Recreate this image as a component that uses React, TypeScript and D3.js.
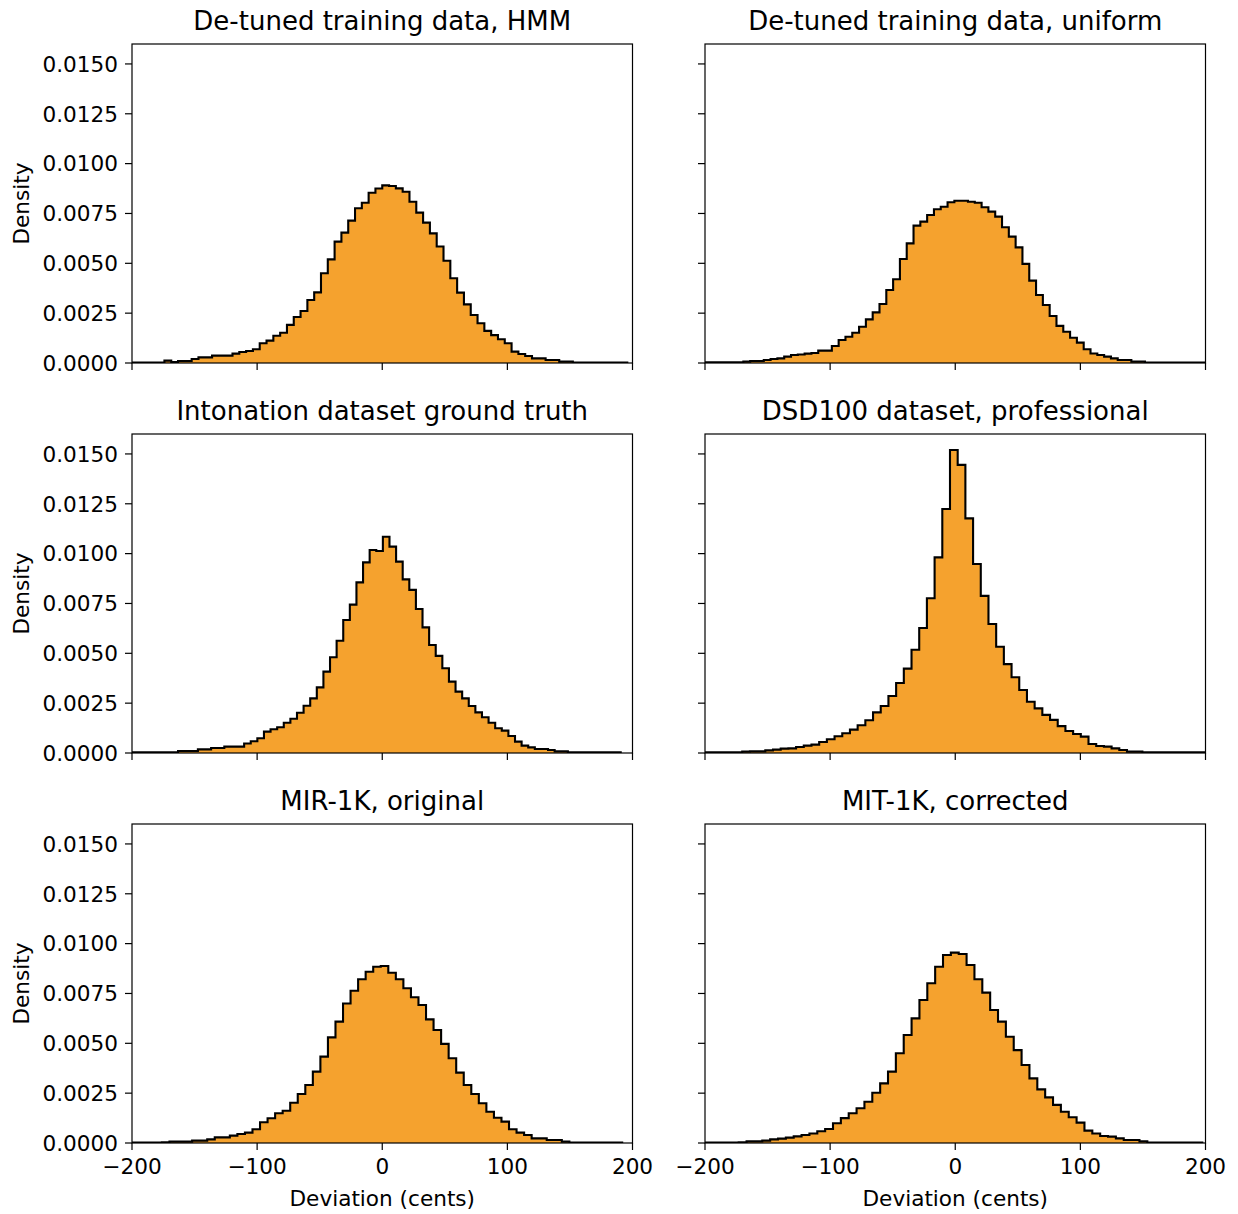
import React, { useEffect, useRef } from 'react';
import * as d3 from 'd3';

// panel titles, row by row
const titles = [
  'De-tuned training data, HMM',
  'De-tuned training data, uniform',
  'Intonation dataset ground truth',
  'DSD100 dataset, professional',
  'MIR-1K, original',
  'MIT-1K, corrected',
];

// left edge of the first bin and bin width (cents) per panel
const binStarts = [-201.28, -201.98, -200.14, -201.0, -200.19, -204.46];
const binWidths = [5.44, 5.44, 5.28, 6.15, 6.03, 6.28];

// density per bin
const hmmDensity = [
  0.00002, 0.00002, 0.00002, 0.00002, 0.00002, 0.00012, 0.00005, 0.0001, 0.0001, 0.0002,
  0.00028, 0.00028, 0.00037, 0.00037, 0.00037, 0.00047, 0.00055, 0.0006, 0.00069, 0.00099,
  0.00112, 0.00137, 0.00152, 0.00191, 0.00231, 0.00261, 0.00316, 0.00354, 0.0045, 0.0052,
  0.00609, 0.00654, 0.00714, 0.00776, 0.00804, 0.00854, 0.00875, 0.00891, 0.00888, 0.00876,
  0.00859, 0.00809, 0.00754, 0.00704, 0.0065, 0.00584, 0.00513, 0.00425, 0.00353, 0.00294,
  0.00241, 0.00199, 0.00161, 0.0014, 0.00119, 0.00099, 0.00057, 0.00045, 0.00035, 0.00023,
  0.00023, 0.00015, 0.00015, 0.00007, 0.00007, 0.00002, 0.00002, 0.00002, 0.00002, 0.00002,
  0.00002, 0.00002, 0.00002,
];

const uniformDensity = [
  0.00003, 0.00003, 0.00003, 0.00003, 0.00003, 0.00003, 0.00007, 0.0001, 0.0001, 0.00015,
  0.0002, 0.00023, 0.00032, 0.0004, 0.00043, 0.00047, 0.0005, 0.00062, 0.00062, 0.00085,
  0.00115, 0.00132, 0.00152, 0.00182, 0.00219, 0.00254, 0.00296, 0.00366, 0.0042, 0.00522,
  0.006, 0.00689, 0.00709, 0.00742, 0.00771, 0.00784, 0.00806, 0.00814, 0.00814, 0.00809,
  0.00804, 0.00781, 0.00759, 0.00734, 0.00681, 0.00634, 0.0058, 0.00497, 0.00413, 0.00341,
  0.00291, 0.00236, 0.00186, 0.00157, 0.00127, 0.00102, 0.00069, 0.00048, 0.0004, 0.00032,
  0.00023, 0.00015, 0.00015, 0.00007, 0.00007, 0.00002, 0.00002, 0.00002, 0.00002, 0.00002,
  0.00002, 0.00002, 0.00002, 0.00002, 0.00002,
];

const intonationDensity = [
  0.00003, 0.00003, 0.00003, 0.00003, 0.00003, 0.00003, 0.00003, 0.0001, 0.0001, 0.0001,
  0.00018, 0.00018, 0.00025, 0.00025, 0.00032, 0.00032, 0.00032, 0.00048, 0.00059, 0.00074,
  0.00107, 0.00119, 0.00129, 0.00152, 0.00172, 0.00202, 0.00237, 0.00274, 0.00329, 0.00408,
  0.0048, 0.00563, 0.00667, 0.00744, 0.00856, 0.00956, 0.01018, 0.01013, 0.01085, 0.01035,
  0.0096, 0.00871, 0.00818, 0.00722, 0.0063, 0.00542, 0.00487, 0.00425, 0.00358, 0.00308,
  0.00274, 0.00236, 0.00204, 0.00179, 0.00152, 0.00124, 0.00112, 0.00085, 0.00057, 0.00037,
  0.00028, 0.0002, 0.0002, 0.00015, 0.00008, 0.00008, 0.00003, 0.00003, 0.00003, 0.00003,
  0.00003, 0.00003, 0.00003, 0.00003,
];

const dsdDensity = [
  0.00003, 0.00003, 0.00003, 0.00003, 0.00003, 0.00007, 0.00008, 0.00008, 0.00013, 0.00017,
  0.00022, 0.00023, 0.0003, 0.00037, 0.00042, 0.00055, 0.00069, 0.00084, 0.00099, 0.00117,
  0.00139, 0.00164, 0.00204, 0.00236, 0.00286, 0.00351, 0.00423, 0.00518, 0.00627, 0.00776,
  0.00981, 0.01224, 0.0152, 0.01445, 0.01177, 0.00948, 0.00788, 0.00647, 0.00533, 0.00446,
  0.0038, 0.00316, 0.00257, 0.00224, 0.00191, 0.00166, 0.00135, 0.0011, 0.00095, 0.00082,
  0.00045, 0.00035, 0.00032, 0.00023, 0.00015, 0.00007, 0.00007, 0.00003, 0.00003, 0.00003,
  0.00003, 0.00003, 0.00003, 0.00003, 0.00003,
];

const mirOriginalDensity = [
  0.00002, 0.00002, 0.00002, 0.00002, 0.00003, 0.00007, 0.00007, 0.00007, 0.00012, 0.00012,
  0.00018, 0.00028, 0.00028, 0.00037, 0.00045, 0.00052, 0.00069, 0.00104, 0.00124, 0.00149,
  0.00162, 0.00202, 0.00246, 0.00291, 0.00358, 0.00433, 0.0053, 0.00609, 0.007, 0.00764,
  0.00821, 0.00859, 0.00884, 0.00888, 0.00854, 0.00821, 0.00776, 0.00731, 0.00692, 0.0062,
  0.00567, 0.00497, 0.00425, 0.00353, 0.00291, 0.00246, 0.00199, 0.00157, 0.00127, 0.00107,
  0.00069, 0.00052, 0.0004, 0.00023, 0.00023, 0.00015, 0.00015, 0.00007, 0.00002, 0.00002,
  0.00002, 0.00002, 0.00002, 0.00002, 0.00002,
];

const mitCorrectedDensity = [
  0.00002, 0.00002, 0.00002, 0.00002, 0.00002, 0.00003, 0.00008, 0.00008, 0.00012, 0.00018,
  0.00022, 0.00027, 0.00033, 0.0004, 0.00048, 0.00059, 0.0007, 0.00099, 0.00125, 0.00149,
  0.00174, 0.00207, 0.00252, 0.00299, 0.00358, 0.0045, 0.00542, 0.00625, 0.00717, 0.00801,
  0.00884, 0.00943, 0.00955, 0.00948, 0.00893, 0.00821, 0.00754, 0.00667, 0.00609, 0.00533,
  0.00466, 0.00391, 0.00324, 0.00269, 0.00229, 0.00191, 0.00157, 0.00129, 0.00102, 0.00062,
  0.00048, 0.00035, 0.00032, 0.00023, 0.00015, 0.00015, 0.00008, 0.00002, 0.00002, 0.00002,
  0.00002, 0.00002, 0.00002, 0.00002,
];

const xTicks = [-200, -100, 0, 100, 200];
const yTicks = [0, 0.0025, 0.005, 0.0075, 0.01, 0.0125, 0.015];

const panels = [hmmDensity, uniformDensity, intonationDensity, dsdDensity, mirOriginalDensity, mitCorrectedDensity];

const App: React.FC = () => {
  const svgRef = useRef<SVGSVGElement | null>(null);

  useEffect(() => {
    if (!svgRef.current) return;
    const svg = d3.select(svgRef.current);
    svg.selectAll('*').remove();

    const font = 'DejaVu Sans';
    const labelSize = 21.6;
    const titleSize = 26;
    const colLeft = [132, 705];
    const rowTop = [44, 434, 824];
    const axW = 500.5;
    const axH = 319;

    const x = d3.scaleLinear().domain([-200, 200]).range([0, axW]);
    const y = d3.scaleLinear().domain([0, 0.016]).range([axH, 0]);
    const fmtY = d3.format('.4f');
    const fmtX = (v: number) => (v < 0 ? '\u2212' + Math.abs(v) : String(v));

    const step = d3.line<[number, number]>()
      .x(d => x(d[0]))
      .y(d => y(d[1]));

    panels.forEach((values, p) => {
      const col = p % 2;
      const row = Math.floor(p / 2);
      const g = svg.append('g')
        .attr('transform', `translate(${colLeft[col]},${rowTop[row]})`);

      g.append('clipPath')
        .attr('id', `clip${p}`)
        .append('rect')
        .attr('width', axW)
        .attr('height', axH);

      // step outline of the histogram
      const start = binStarts[p];
      const w = binWidths[p];
      const pts: [number, number][] = [[start, 0]];
      values.forEach((v, i) => {
        pts.push([start + i * w, v]);
        pts.push([start + (i + 1) * w, v]);
      });
      pts.push([start + values.length * w, 0]);

      g.append('path')
        .datum(pts)
        .attr('clip-path', `url(#clip${p})`)
        .attr('fill', '#f5a22e')
        .attr('stroke', '#000')
        .attr('stroke-width', 2.1)
        .attr('stroke-linejoin', 'miter')
        .attr('d', step);

      // frame
      g.append('rect')
        .attr('width', axW)
        .attr('height', axH)
        .attr('fill', 'none')
        .attr('stroke', '#000')
        .attr('stroke-width', 1.2);

      // y ticks
      yTicks.forEach(t => {
        g.append('line')
          .attr('x1', -7).attr('x2', 0)
          .attr('y1', y(t)).attr('y2', y(t))
          .attr('stroke', '#000').attr('stroke-width', 1.2);
        if (col === 0) {
          g.append('text')
            .attr('x', -14)
            .attr('y', y(t))
            .attr('dy', '0.36em')
            .attr('text-anchor', 'end')
            .attr('font-family', font)
            .attr('font-size', labelSize)
            .text(fmtY(t));
        }
      });

      // x ticks
      xTicks.forEach(t => {
        g.append('line')
          .attr('x1', x(t)).attr('x2', x(t))
          .attr('y1', axH).attr('y2', axH + 7)
          .attr('stroke', '#000').attr('stroke-width', 1.2);
        if (row === 2) {
          g.append('text')
            .attr('x', x(t))
            .attr('y', axH + 31)
            .attr('text-anchor', 'middle')
            .attr('font-family', font)
            .attr('font-size', labelSize)
            .text(fmtX(t));
        }
      });

      g.append('text')
        .attr('x', axW / 2)
        .attr('y', -14)
        .attr('text-anchor', 'middle')
        .attr('font-family', font)
        .attr('font-size', titleSize)
        .text(titles[p]);

      if (col === 0) {
        g.append('text')
          .attr('transform', `translate(${29 - colLeft[0]},${axH / 2}) rotate(-90)`)
          .attr('text-anchor', 'middle')
          .attr('font-family', font)
          .attr('font-size', labelSize)
          .text('Density');
      }

      if (row === 2) {
        g.append('text')
          .attr('x', axW / 2)
          .attr('y', axH + 63)
          .attr('text-anchor', 'middle')
          .attr('font-family', font)
          .attr('font-size', labelSize)
          .text('Deviation (cents)');
      }
    });
  }, []);

  return (
    <svg
      ref={svgRef}
      width={1238}
      height={1214}
      style={{ position: 'absolute', left: 0, top: 0, background: '#fff' }}
    />
  );
};

export default App;
